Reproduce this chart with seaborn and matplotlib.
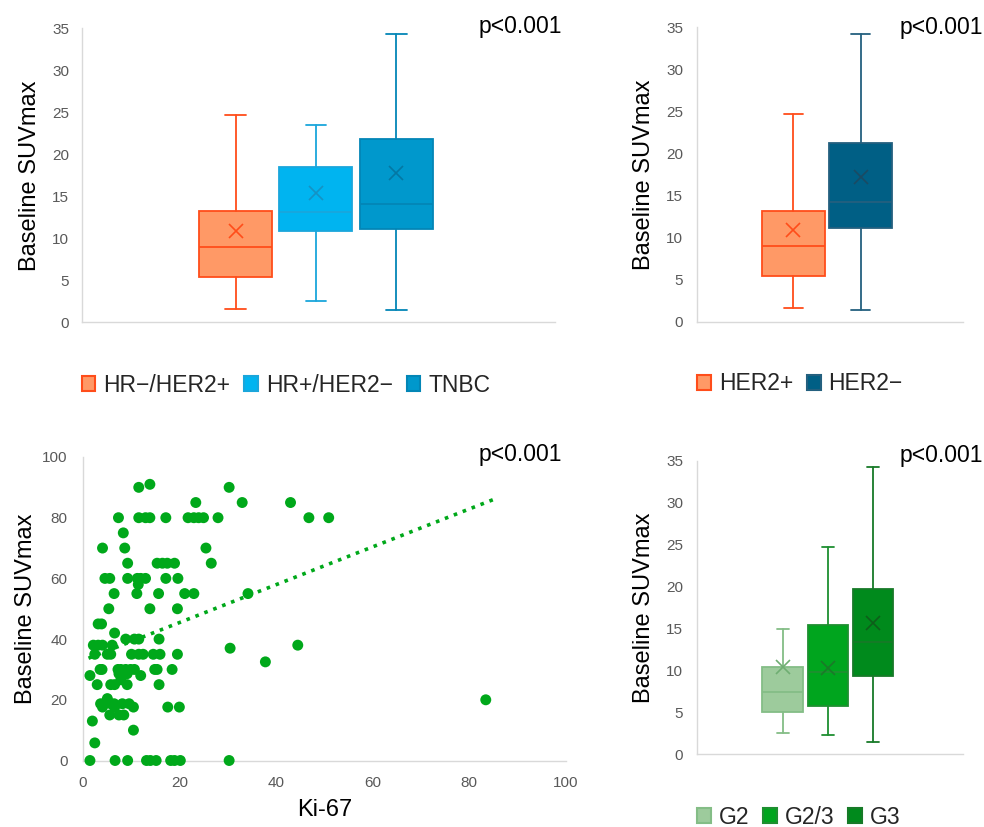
import numpy as np
import pandas as pd
import matplotlib
matplotlib.use('Agg')
import matplotlib.pyplot as plt
from matplotlib.patches import Patch
import seaborn as sns

# Box statistics (Baseline SUVmax)
subtype_labels = ['HR−/HER2+', 'HR+/HER2−', 'TNBC']
subtype_low = [1.6, 2.5, 1.45]
subtype_q1 = [5.45, 10.85, 11.1]
subtype_med = [9.0, 13.1, 14.1]
subtype_q3 = [13.25, 18.5, 21.85]
subtype_high = [24.65, 23.5, 34.3]
subtype_mean = [10.9, 15.4, 17.75]

her2_labels = ['HER2+', 'HER2−']
her2_low = [1.63, 1.39]
her2_q1 = [5.43, 11.14]
her2_med = [9.0, 14.23]
her2_q3 = [13.2, 21.28]
her2_high = [24.65, 34.25]
her2_mean = [10.9, 17.24]

grade_labels = ['G2', 'G2/3', 'G3']
grade_low = [2.5, 2.3, 1.43]
grade_q1 = [5.09, 5.8, 9.34]
grade_med = [7.47, 9.77, 13.35]
grade_q3 = [10.45, 15.4, 19.67]
grade_high = [14.9, 24.7, 34.3]
grade_mean = [10.45, 10.25, 15.7]

# Scatter: Ki-67 vs Baseline SUVmax
ki67 = [11.6, 13.9, 30.3,
        23.4, 33.0, 43.0,
        7.4, 11.6, 13.0, 13.9, 17.2, 21.8, 23.0, 24.0, 25.0, 28.0, 46.8, 50.9,
        8.4,
        4.1, 8.7, 25.5,
        9.3, 15.4, 16.5, 17.5, 19.0, 26.6,
        4.6, 5.6, 9.3, 11.3, 12.0, 13.0, 17.2, 19.7,
        11.5,
        6.5, 11.2, 15.7, 21.1, 23.0, 34.2,
        5.4, 13.9, 19.6,
        3.2, 3.9,
        6.6,
        8.9, 10.7, 11.6, 15.8,
        2.2, 3.2, 4.1, 6.1, 44.5,
        30.5, 37.8,
        2.5, 5.1, 5.8, 10.1, 11.6, 12.5, 14.6, 16.0, 19.6,
        3.6, 4.0, 7.3, 7.9, 8.9, 9.9, 10.7, 14.9, 15.4, 18.5,
        7.5, 8.2, 9.2,
        1.5, 12.0,
        7.9,
        3.0, 5.8, 6.6, 9.2, 15.8,
        5.1,
        3.7, 4.4, 5.8, 6.5, 8.2, 9.6,
        4.1, 6.6, 10.5, 17.6, 20.0,
        5.6, 7.5, 8.5,
        2.0, 10.5, 2.5,
        1.5, 6.7, 9.3, 13.2, 14.0, 15.2, 18.2, 19.0, 20.2, 30.3,
        83.4]
suv = [90, 91, 90,
       85, 85, 85,
       80, 80, 80, 80, 80, 80, 80, 80, 80, 80, 80, 80,
       75,
       70, 70, 70,
       65, 65, 65, 65, 65, 65,
       60, 60, 60, 60, 60, 60, 60, 60,
       58,
       55, 55, 55, 55, 55, 55,
       50, 50, 50,
       45, 45,
       42,
       40, 40, 40, 40,
       38, 38, 38, 38, 38,
       37, 32.5,
       35, 35, 35, 35, 35, 35, 35, 35, 35,
       30, 30, 30, 30, 30, 30, 30, 30, 30, 30,
       28.6, 28.6, 28.6,
       28, 28,
       26.6,
       25, 25, 25, 25, 25,
       20.4,
       18.7, 18.7, 18.7, 18.7, 18.7, 18.7,
       17.6, 17.6, 17.6, 17.6, 17.6,
       15, 15, 15,
       13, 10, 5.8,
       0, 0, 0, 0, 0, 0, 0, 0, 0, 0,
       20]
trend_x = [1.2, 85.0]
trend_y = [33.7, 86.0]

sns.set_theme(style='white')
plt.rcParams['font.family'] = ['Liberation Sans', 'DejaVu Sans']

W, H = 984, 827
fig = plt.figure(figsize=(W / 100, H / 100), dpi=100)


def px_rect(l, t, r, b):
    return [l / W, 1 - b / H, (r - l) / W, (b - t) / H]


TICK_C = '#595959'
SPINE_C = '#D9D9D9'


def style_axes(ax, pad):
    for s in ['top', 'right']:
        ax.spines[s].set_visible(False)
    for s in ['left', 'bottom']:
        ax.spines[s].set_color(SPINE_C)
        ax.spines[s].set_linewidth(1.0)
    ax.tick_params(length=0, labelsize=11, labelcolor=TICK_C, pad=pad)


def draw_boxes(ax, low, q1, med, q3, high, mean, faces, edges, xcols, width, capw):
    for i in range(len(med)):
        st = [dict(med=med[i], q1=q1[i], q3=q3[i], whislo=low[i], whishi=high[i],
                   mean=mean[i], fliers=[])]
        ec = edges[i]
        ax.bxp(st, positions=[i], widths=width, capwidths=capw, patch_artist=True,
               showmeans=True, showfliers=False,
               boxprops=dict(facecolor=faces[i], edgecolor=ec, linewidth=1.3),
               medianprops=dict(color=ec, linewidth=1.3),
               whiskerprops=dict(color=ec, linewidth=1.3),
               capprops=dict(color=ec, linewidth=1.3),
               meanprops=dict(marker='x', markeredgecolor=xcols[i], markersize=9.5,
                              markeredgewidth=1.2))


def box_axes(ax, xlim, ylabel_x, pad):
    style_axes(ax, pad)
    ax.set_ylim(0, 35)
    ax.set_yticks(range(0, 36, 5))
    ax.set_xlim(*xlim)
    ax.set_xticks([])
    ax.set_ylabel('Baseline SUVmax', fontsize=17, color='black')
    ax.yaxis.set_label_coords(ylabel_x, 0.5)


def add_legend(labels, faces, edges, x_px, y_px):
    handles = [Patch(facecolor=f, edgecolor=e, linewidth=1.5, label=l)
               for l, f, e in zip(labels, faces, edges)]
    fig.legend(handles=handles, loc='center left', bbox_to_anchor=(x_px / W, 1 - y_px / H),
               ncol=len(labels), frameon=False, fontsize=16.5, handlelength=0.6,
               handleheight=0.6, handletextpad=0.35, columnspacing=0.6, borderpad=0,
               borderaxespad=0)


def p_text(x_px, y_px):
    fig.text(x_px / W, 1 - y_px / H, 'p<0.001', ha='right', va='baseline', fontsize=16.5,
             color='black')


# Top-left: molecular subtype
ax1 = fig.add_axes(px_rect(81.7, 28.3, 555, 322.3))
sub_faces = ['#FF9966', '#00B4F0', '#0098CC']
sub_edges = ['#FF4D1A', '#1AA6DB', '#0386B6']
sub_x = ['#FF4D1A', '#1592C4', '#0477A3']
draw_boxes(ax1, subtype_low, subtype_q1, subtype_med, subtype_q3, subtype_high, subtype_mean,
           sub_faces, sub_edges, sub_x, 0.91, 0.26)
box_axes(ax1, (-1.92, 3.98), -0.085, 9)
add_legend(subtype_labels, sub_faces, sub_edges, 81.7, 385)
p_text(562.3, 32.7)

# Top-right: HER2 status
ax2 = fig.add_axes(px_rect(697, 27.3, 963, 321.7))
her_faces = ['#FF9966', '#005F85']
her_edges = ['#FF4D1A', '#24607F']
her_x = ['#FF4D1A', '#1A4A63']
draw_boxes(ax2, her2_low, her2_q1, her2_med, her2_q3, her2_high, her2_mean,
           her_faces, her_edges, her_x, 0.93, 0.28)
box_axes(ax2, (-1.42, 2.51), -0.158, 10)
add_legend(her2_labels, her_faces, her_edges, 697, 384)
p_text(983, 34)

# Bottom-left: Ki-67 scatter
ax3 = fig.add_axes(px_rect(82.7, 457, 566, 760.5))
scat = pd.DataFrame({'Ki-67': ki67, 'SUV': suv})
sns.scatterplot(data=scat, x='Ki-67', y='SUV', ax=ax3, color='#00A81A', s=62,
                edgecolor='none', clip_on=False, zorder=3)
sns.lineplot(x=trend_x, y=trend_y, ax=ax3, color='#00A81A', linestyle=':', linewidth=2.6)
style_axes(ax3, 11)
ax3.set_xlim(0, 100)
ax3.set_ylim(0, 100)
ax3.set_xticks(range(0, 101, 20))
ax3.set_yticks(range(0, 101, 20))
ax3.set_xlabel('Ki-67', fontsize=17, color='black')
ax3.xaxis.set_label_coords(0.501, -0.127)
ax3.set_ylabel('Baseline SUVmax', fontsize=17, color='black')
ax3.yaxis.set_label_coords(-0.095, 0.5)
p_text(562.3, 460.7)

# Bottom-right: grade
ax4 = fig.add_axes(px_rect(697, 460.7, 963, 754.3))
gr_faces = ['#9DCB9C', '#00A51E', '#008A1C']
gr_edges = ['#84BD86', '#1E8F30', '#177A28']
gr_x = ['#6FAE72', '#1A7A28', '#0E5E1A']
draw_boxes(ax4, grade_low, grade_q1, grade_med, grade_q3, grade_high, grade_mean,
           gr_faces, gr_edges, gr_x, 0.89, 0.26)
box_axes(ax4, (-1.89, 3.98), -0.158, 10)
add_legend(grade_labels, gr_faces, gr_edges, 697, 817)
p_text(983, 461.7)

fig.savefig('out.png', dpi=100)
